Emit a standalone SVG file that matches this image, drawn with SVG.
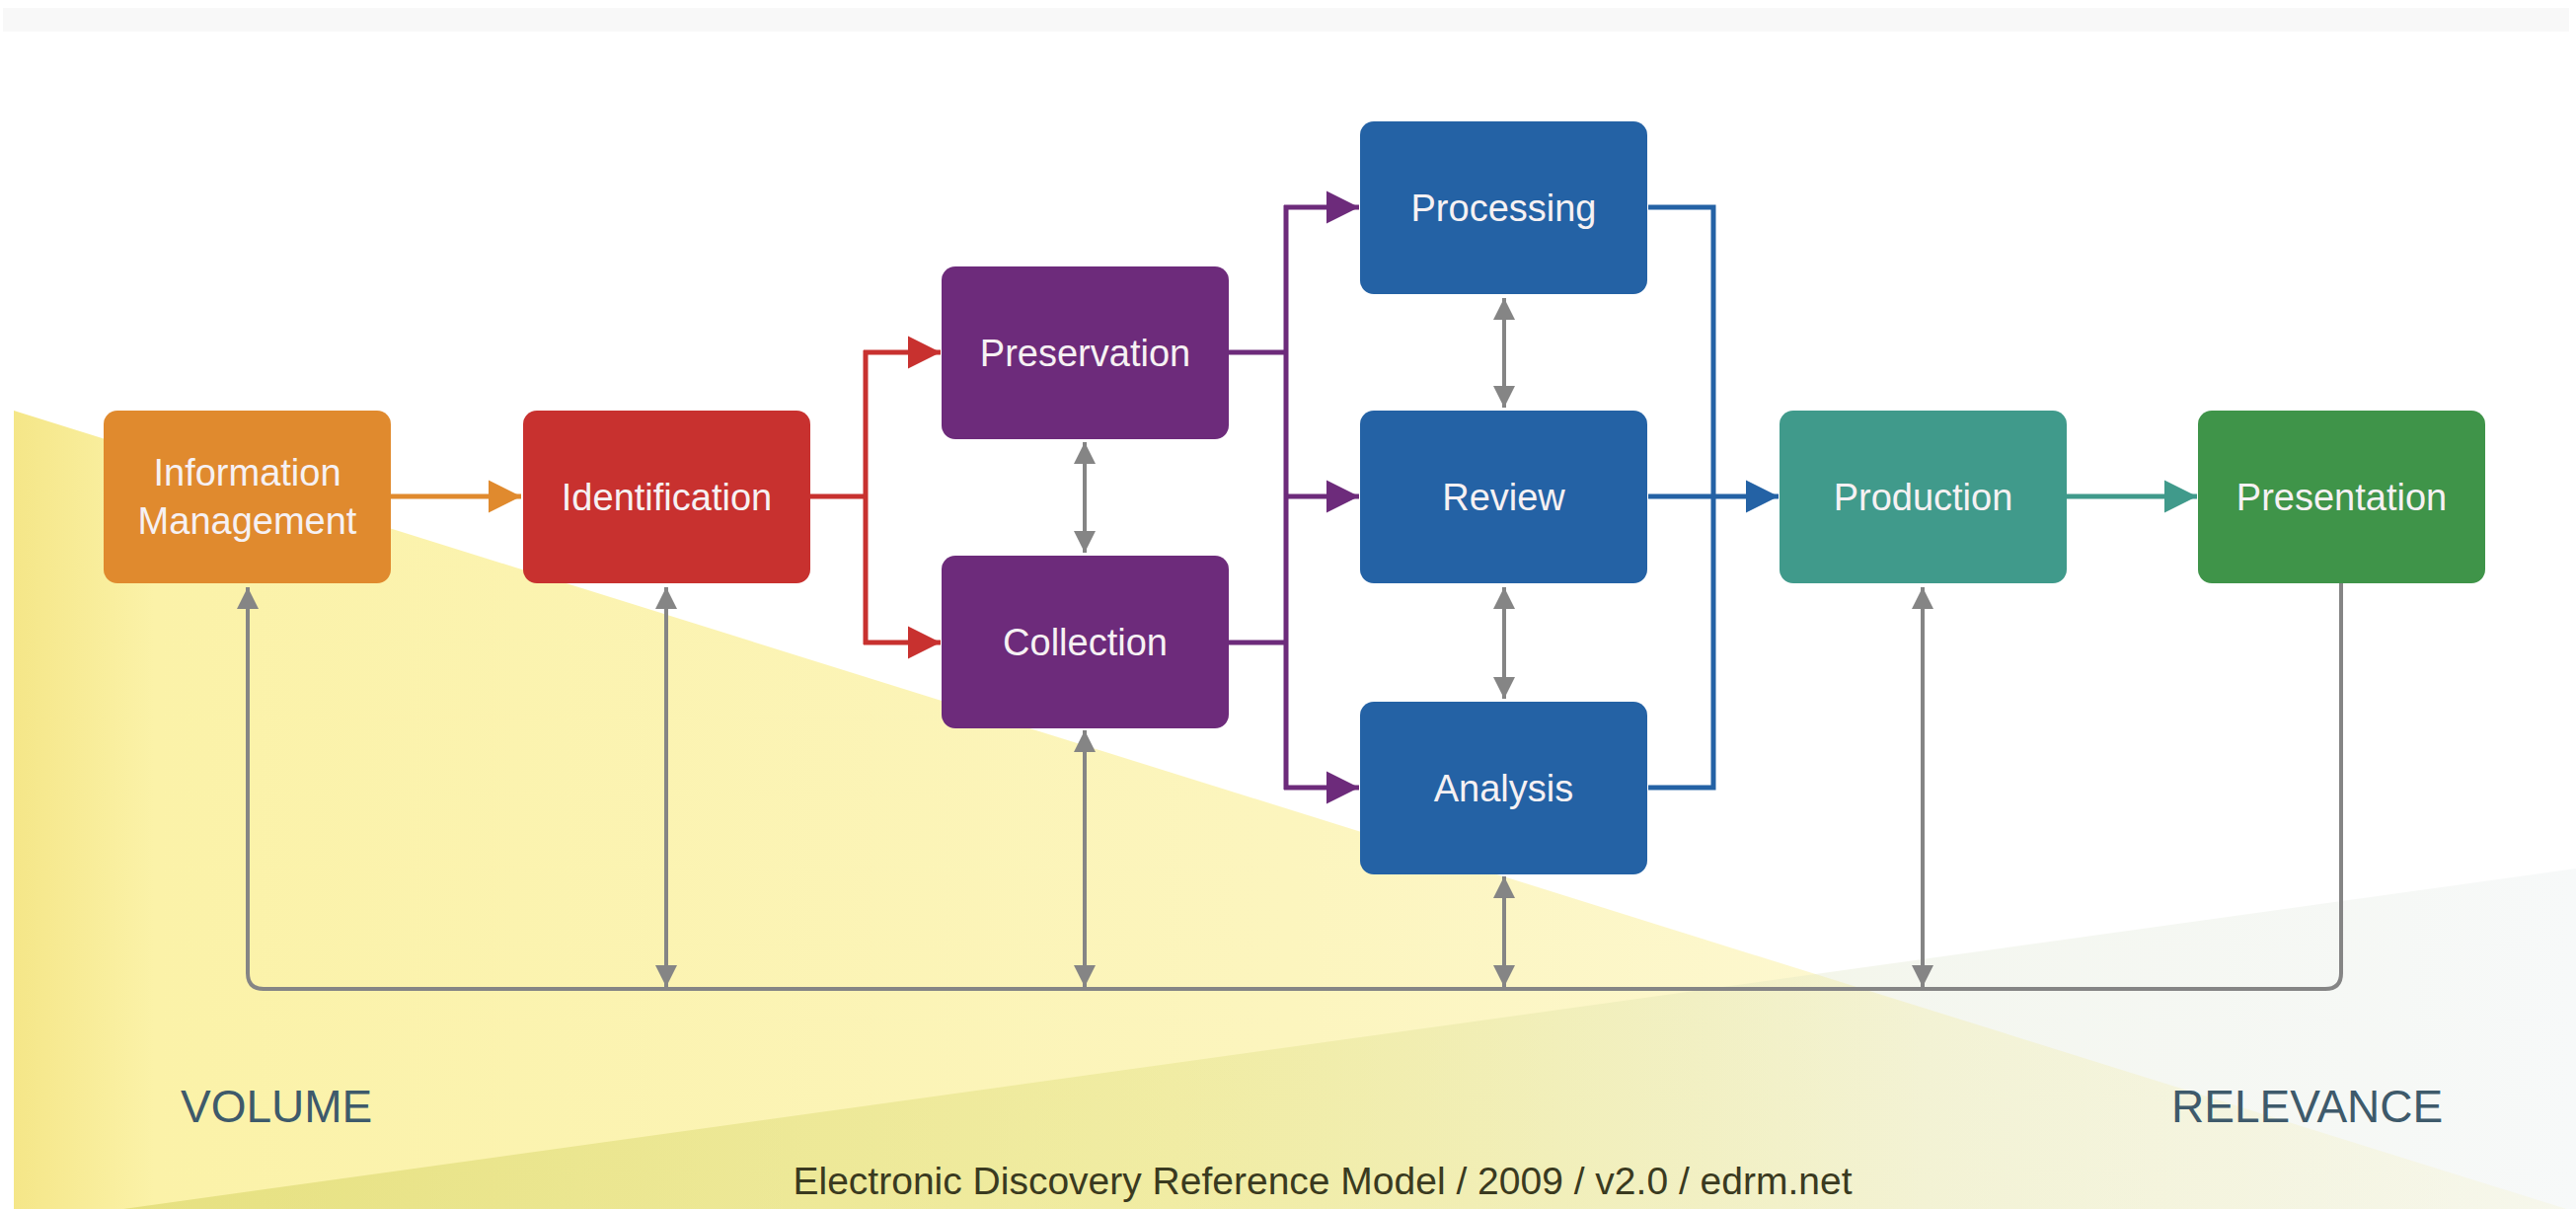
<svg xmlns="http://www.w3.org/2000/svg" width="2610" height="1225" viewBox="0 0 2610 1225">
<style>
.box{stroke:none}
.lbl{font-family:"Liberation Sans",Arial,sans-serif;font-size:38px;fill:#F6F1F3;text-anchor:middle}
.gray{fill:none;stroke:#858585;stroke-width:4}
.big{font-family:"Liberation Sans",Arial,sans-serif;font-size:46px;fill:#3E5A6B}
.foot{font-family:"Liberation Sans",Arial,sans-serif;font-size:39px;fill:#3A3A20;text-anchor:middle}
</style>
<defs>
<linearGradient id="gy" x1="0" y1="0" x2="2610" y2="0" gradientUnits="userSpaceOnUse">
<stop offset="0" stop-color="#F4E585"/>
<stop offset="0.06" stop-color="#FBF2A8"/>
<stop offset="0.5" stop-color="#FCF5BE"/>
<stop offset="1" stop-color="#FEFBE6"/>
</linearGradient>
<linearGradient id="gr" x1="0" y1="0" x2="2610" y2="0" gradientUnits="userSpaceOnUse">
<stop offset="0" stop-color="#C9C84A" stop-opacity="0.45"/>
<stop offset="0.45" stop-color="#D6D86A" stop-opacity="0.3"/>
<stop offset="0.75" stop-color="#E4EAD8" stop-opacity="0.4"/>
<stop offset="1" stop-color="#EFF3F3" stop-opacity="0.5"/>
</linearGradient>
<marker id="ao" viewBox="0 0 10 10" refX="10" refY="5" markerWidth="33" markerHeight="36" markerUnits="userSpaceOnUse" orient="auto"><path d="M0,0 L10,5 L0,10 z" fill="#E08A2E"/></marker>
<marker id="ar" viewBox="0 0 10 10" refX="10" refY="5" markerWidth="33" markerHeight="36" markerUnits="userSpaceOnUse" orient="auto"><path d="M0,0 L10,5 L0,10 z" fill="#C8312F"/></marker>
<marker id="ap" viewBox="0 0 10 10" refX="10" refY="5" markerWidth="33" markerHeight="36" markerUnits="userSpaceOnUse" orient="auto"><path d="M0,0 L10,5 L0,10 z" fill="#6D2B7B"/></marker>
<marker id="ab" viewBox="0 0 10 10" refX="10" refY="5" markerWidth="33" markerHeight="36" markerUnits="userSpaceOnUse" orient="auto"><path d="M0,0 L10,5 L0,10 z" fill="#2462A5"/></marker>
<marker id="at" viewBox="0 0 10 10" refX="10" refY="5" markerWidth="33" markerHeight="36" markerUnits="userSpaceOnUse" orient="auto"><path d="M0,0 L10,5 L0,10 z" fill="#409A8B"/></marker>
<marker id="ag" viewBox="0 0 10 10" refX="10" refY="5" markerWidth="25" markerHeight="22" markerUnits="userSpaceOnUse" orient="auto-start-reverse"><path d="M0,0 L10,5 L0,10 z" fill="#858585"/></marker>
</defs>

<g id="background">
<rect x="0" y="0" width="2610" height="1225" fill="#FFFFFF"/>
<rect x="3" y="8" width="2600" height="24" fill="#F8F8F8"/>
<polygon points="14,416 2610,1228 14,1228" fill="url(#gy)"/>
<polygon points="125,1225 2610,880 2610,1225" fill="url(#gr)"/>
</g>

<g id="connectors">
<path class="gray" d="M251,595 L251,986 Q251,1002 267,1002 L2356,1002 Q2372,1002 2372,986 L2372,591" marker-start="url(#ag)"/>
<path class="gray" d="M675,595 L675,1000" marker-start="url(#ag)" marker-end="url(#ag)"/>
<path class="gray" d="M1099,740 L1099,1000" marker-start="url(#ag)" marker-end="url(#ag)"/>
<path class="gray" d="M1524,888 L1524,1000" marker-start="url(#ag)" marker-end="url(#ag)"/>
<path class="gray" d="M1948,595 L1948,1000" marker-start="url(#ag)" marker-end="url(#ag)"/>
<path class="gray" d="M1099,448 L1099,560" marker-start="url(#ag)" marker-end="url(#ag)"/>
<path class="gray" d="M1524,302 L1524,413" marker-start="url(#ag)" marker-end="url(#ag)"/>
<path class="gray" d="M1524,595 L1524,708" marker-start="url(#ag)" marker-end="url(#ag)"/>

<path d="M396,503 L528,503" stroke="#E08A2E" stroke-width="5" fill="none" marker-end="url(#ao)"/>

<path d="M821,503 L877,503 M877,355 L877,653" stroke="#C8312F" stroke-width="5" fill="none"/>
<path d="M875,357 L953,357" stroke="#C8312F" stroke-width="5" fill="none" marker-end="url(#ar)"/>
<path d="M875,651 L953,651" stroke="#C8312F" stroke-width="5" fill="none" marker-end="url(#ar)"/>

<path d="M1245,357 L1303,357 M1245,651 L1303,651 M1303,208 L1303,800" stroke="#6D2B7B" stroke-width="5" fill="none"/>
<path d="M1301,210 L1377,210" stroke="#6D2B7B" stroke-width="5" fill="none" marker-end="url(#ap)"/>
<path d="M1301,503 L1377,503" stroke="#6D2B7B" stroke-width="5" fill="none" marker-end="url(#ap)"/>
<path d="M1301,798 L1377,798" stroke="#6D2B7B" stroke-width="5" fill="none" marker-end="url(#ap)"/>

<path d="M1670,210 L1736,210 L1736,798 L1670,798" stroke="#2462A5" stroke-width="5" fill="none"/>
<path d="M1670,503 L1802,503" stroke="#2462A5" stroke-width="5" fill="none" marker-end="url(#ab)"/>

<path d="M2094,503 L2226,503" stroke="#409A8B" stroke-width="5" fill="none" marker-end="url(#at)"/>
</g>

<g id="node-information-management">
<rect class="box" x="105" y="416" width="291" height="175" rx="14" fill="#E08A2E"/>
<text class="lbl" x="250.5" y="492">Information</text>
<text class="lbl" x="250.5" y="541">Management</text>
</g>
<g id="node-identification">
<rect class="box" x="530" y="416" width="291" height="175" rx="14" fill="#C8312F"/>
<text class="lbl" x="675.5" y="517">Identification</text>
</g>
<g id="node-preservation">
<rect class="box" x="954" y="270" width="291" height="175" rx="14" fill="#6D2B7B"/>
<text class="lbl" x="1099.5" y="371">Preservation</text>
</g>
<g id="node-collection">
<rect class="box" x="954" y="563" width="291" height="175" rx="14" fill="#6D2B7B"/>
<text class="lbl" x="1099.5" y="664">Collection</text>
</g>
<g id="node-processing">
<rect class="box" x="1378" y="123" width="291" height="175" rx="14" fill="#2462A5"/>
<text class="lbl" x="1523.5" y="224">Processing</text>
</g>
<g id="node-review">
<rect class="box" x="1378" y="416" width="291" height="175" rx="14" fill="#2462A5"/>
<text class="lbl" x="1523.5" y="517">Review</text>
</g>
<g id="node-analysis">
<rect class="box" x="1378" y="711" width="291" height="175" rx="14" fill="#2462A5"/>
<text class="lbl" x="1523.5" y="812">Analysis</text>
</g>
<g id="node-production">
<rect class="box" x="1803" y="416" width="291" height="175" rx="14" fill="#409A8B"/>
<text class="lbl" x="1948.5" y="517">Production</text>
</g>
<g id="node-presentation">
<rect class="box" x="2227" y="416" width="291" height="175" rx="14" fill="#3F9449"/>
<text class="lbl" x="2372.5" y="517">Presentation</text>
</g>

<g id="labels">
<text class="big" x="183" y="1137">VOLUME</text>
<text class="big" x="2200" y="1137">RELEVANCE</text>
<text class="foot" x="1340" y="1210">Electronic Discovery Reference Model / 2009 / v2.0 / edrm.net</text>
</g>
</svg>
